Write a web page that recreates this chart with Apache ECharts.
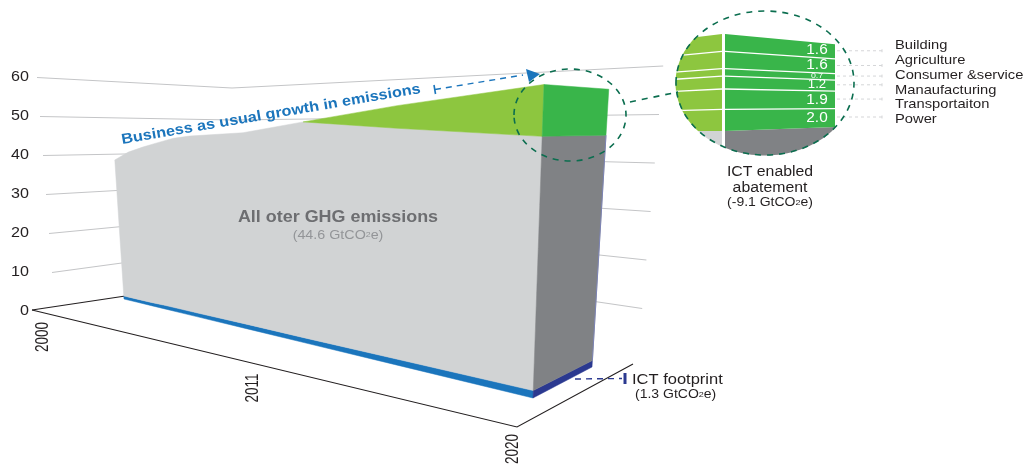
<!DOCTYPE html>
<html>
<head>
<meta charset="utf-8">
<style>html,body{margin:0;padding:0;background:#fff}#chart{width:1026px;height:464px}</style>
<script src="https://cdn.jsdelivr.net/npm/echarts@6/dist/echarts.min.js"></script>
</head>
<body>
<div id="chart"></div>
<script>
// GHG emissions by year, GtCO2e
const years    = [2000, 2001, 2002, 2003, 2004, 2005, 2008, 2011, 2015, 2020];
const ictFoot  = [0.9, 0.9, 0.9, 1.0, 1.0, 1.0, 1.1, 1.1, 1.2, 1.3];
const otherGhg = [40.0, 42.3, 43.7, 44.8, 45.9, 46.4, 46.8, 48.9, 46.8, 44.6];
const abated   = [0, 0, 0, 0, 0, 0, 0, 0, 4.6, 9.1];

// Abatement by sector, listed from the bottom of the stack upward
const sectors      = ['Power', 'Transportaiton', 'Manaufacturing', 'Consumer &service', 'Agriculture', 'Building'];
const sectorValues = [2.0, 1.9, 1.2, 0.7, 1.6, 1.6];

const valueTicks = [0, 10, 20, 30, 40, 50, 60];
const yearTicks  = [2000, 2011, 2020];

const FONT = '"Liberation Sans", Arial, sans-serif';
const COLOR = {
  grey: '#D1D3D4', greyDark: '#808285', lime: '#8DC63F', green: '#39B54A',
  blue: '#1B75BC', navy: '#2B3990', ring: '#0B6E4F', wall: '#C4C5C7',
  ink: '#231F20', muted: '#6D6E71', soft: '#939598'
};

const lerp = (a, b, t) => a + (b - a) * t;

// Oblique projection of the box: perspective along the time axis, then a
// per-column vertical scale and lean.
const FORESHORTEN = 1.54;
const timeFrac = y => { const u = (y - 2000) / 20; return u / (u + FORESHORTEN * (1 - u)); };
const FRONT_L = { x: 124, y: 299, s: 3.4, lean: -0.225 };
const FRONT_R = { x: 533, y: 398, s: 5.7, lean: 0.2 };
const BACK_R  = { x: 592, y: 367, s: 5.05, lean: 0.305 };

function slabPoint(year, depth, v) {
  const t = timeFrac(year);
  const mix = k => lerp(lerp(FRONT_L[k], FRONT_R[k], t), BACK_R[k], depth);
  return [mix('x') + mix('lean') * v, mix('y') - mix('s') * v];
}

// Walls and floor of the box
const floorLeft  = [32, 310];
const floorFront = [517, 427];
const floorRight = [633, 364];
const wallLeft   = v => [55 - 0.3 * v, 311.5 - 3.9 * v];
const wallCorner = v => [232, 280 - 3.2 * v];
const wallRight  = v => [638 + 0.42 * v, 357 - 4.85 * v];

// Zoomed ring: stack height at a horizontal position
const RING = { cx: 765, cy: 83, rx: 89, ry: 72 };
const RING_SMALL = { cx: 570, cy: 115, rx: 56, ry: 46 };
const insetY = (x, c) => {
  const f = (x - 725) / 110;
  return lerp(131, 127, f) - lerp(10.77, 9.2, f) * c;
};
const insetYLeft = (x, c) => 131 - (10.77 - (722 - x) * 0.0133) * c;

const cumulative = [];
sectorValues.reduce((sum, v, i) => (cumulative[i] = sum + v), 0);
const below = i => (i ? cumulative[i - 1] : 0);
const stackTop = cumulative[cumulative.length - 1];

// Element helpers
const polygon = (points, fill, extra) => ({ type: 'polygon', shape: { points }, style: Object.assign({ fill }, extra) });
const line = (points, stroke, width, dash) => ({
  type: 'polyline', shape: { points },
  style: { fill: null, stroke, lineWidth: width, lineDash: dash || null }
});
const text = (str, p, o) => ({
  type: 'text', x: p[0], y: p[1],
  rotation: o.rot || 0, scaleX: o.sx || 1.1, scaleY: o.sy || 1,
  style: {
    text: str, fontFamily: FONT, fontSize: o.size || 14, fontWeight: o.weight || 'normal',
    fill: o.color || COLOR.ink, align: o.align || 'left', verticalAlign: 'middle',
    rich: { sub: { fontSize: Math.round((o.size || 14) * 0.62), fontFamily: FONT, fill: o.color || COLOR.ink } }
  }
});
const ring = (pt, r) => {
  const c = pt([r.cx, r.cy]);
  return { type: 'ellipse', shape: { cx: c[0], cy: c[1], rx: r.rx, ry: r.ry },
    style: { fill: null, stroke: COLOR.ring, lineWidth: 1.6, lineDash: [6, 6] } };
};

const layer = (name, z, build, groupExtra) => ({
  type: 'custom', name, coordinateSystem: 'cartesian2d', z, silent: true, clip: false,
  data: [[0, 0]],
  renderItem: (params, api) => Object.assign(
    { type: 'group', children: build(p => api.coord(p)) },
    groupExtra ? groupExtra() : null)
});

// One face of the slab between two stacked boundaries, walking the year list
function band(pt, from, lower, upper, fill) {
  const idx = years.map((y, i) => i).filter(i => i >= from);
  const top = idx.map(i => pt(slabPoint(years[i], 0, upper(i))));
  const bot = idx.map(i => pt(slabPoint(years[i], 0, lower(i)))).reverse();
  return polygon(top.concat(bot), fill, { stroke: fill, lineWidth: 0.5 });
}
function side(pt, lo, hi, fill) {
  const y = years[years.length - 1];
  return polygon([
    pt(slabPoint(y, 0, lo)), pt(slabPoint(y, 0, hi)),
    pt(slabPoint(y, 1, hi)), pt(slabPoint(y, 1, lo))
  ], fill, { stroke: fill, lineWidth: 0.5 });
}

const last = years.length - 1;
const ghgBase = i => ictFoot[i];
const ghgTop  = i => ictFoot[i] + otherGhg[i];
const bauTop  = i => ghgTop(i) + abated[i];
const greenFrom = years.indexOf(2011);

const series = [
  layer('walls', 1, pt => {
    const out = [];
    valueTicks.forEach(v => {
      if (v === 0) return;
      out.push(line([wallLeft(v), wallCorner(v), wallRight(v)].map(pt), COLOR.wall, 1.2));
    });
    out.push(line([floorLeft, wallCorner(0)].map(pt), COLOR.ink, 1.1));
    out.push(line([floorLeft, floorFront, floorRight].map(pt), COLOR.ink, 1.1));
    return out;
  }),
  layer('slab', 2, pt => [
    band(pt, 0, () => 0, ghgBase, COLOR.blue),
    band(pt, 0, ghgBase, ghgTop, COLOR.grey),
    band(pt, greenFrom, ghgTop, bauTop, COLOR.lime),
    side(pt, 0, ghgBase(last), COLOR.navy),
    side(pt, ghgBase(last), ghgTop(last), COLOR.greyDark),
    side(pt, ghgTop(last), bauTop(last), COLOR.green),
    line([slabPoint(2020, 1, ghgBase(last)), slabPoint(2020, 1, ghgTop(last))].map(pt), '#7C83B5', 1)
  ]),
  layer('inset', 3, pt => {
    const out = [];
    const L0 = 660, L1 = 722, R0 = 725, R1 = 835;
    out.push(polygon([[L0, 131], [L1, 131], [L1, 165], [L0, 165]].map(pt), COLOR.grey));
    out.push(polygon([[R0, insetY(R0, 0)], [R1, insetY(R1, 0)], [R1, 165], [R0, 165]].map(pt), COLOR.greyDark));
    out.push(polygon([[L0, insetYLeft(L0, 0)], [L1, insetYLeft(L1, 0)], [L1, insetYLeft(L1, stackTop)], [L0, insetYLeft(L0, stackTop)]].map(pt), COLOR.lime));
    out.push(polygon([[R0, insetY(R0, 0)], [R1, insetY(R1, 0)], [R1, insetY(R1, stackTop)], [R0, insetY(R0, stackTop)]].map(pt), COLOR.green));
    cumulative.slice(0, -1).forEach(c => {
      out.push(line([[L0, insetYLeft(L0, c)], [L1, insetYLeft(L1, c)]].map(pt), '#fff', 1.3));
      out.push(line([[R0, insetY(R0, c)], [R1, insetY(R1, c)]].map(pt), '#fff', 1.3));
    });
    return out;
  }, () => ({ clipPath: { type: 'ellipse', shape: { cx: RING.cx, cy: RING.cy, rx: RING.rx + 0.5, ry: RING.ry + 0.5 } } })),
  layer('inset values', 4, pt => {
    const sizes = { 0.7: 8, 1.2: 12 };
    return sectorValues.map((v, i) => {
      const y = insetY(817, below(i) + v / 2);
      return text(v.toFixed(1), pt([817, y]), { align: 'center', color: '#fff', size: sizes[v] || 14, sx: 1.1 });
    });
  }),
  layer('leaders', 4, pt => {
    const out = [];
    sectorValues.forEach((v, i) => {
      const y = insetY(835, below(i) + v / 2) - 0.8;
      out.push(line([[837, y], [882, y]].map(pt), '#D5D6D8', 1, [3, 3]));
      out.push(line([[882, y - 1.5], [882, y + 1.5]].map(pt), '#D5D6D8', 1));
    });
    sectors.forEach((s, i) => {
      out.push(text(s, pt([895, 119.5 - 14.85 * i]), { size: 13.5, sx: 1.09 }));
    });
    return out;
  }),
  layer('rings', 5, pt => [
    ring(pt, RING_SMALL),
    ring(pt, RING),
    line([[630, 102], [678, 92]].map(pt), COLOR.ring, 1.6, [6, 6])
  ]),
  layer('callouts', 6, pt => [
    line([[435, 89.5], [523, 75]].map(pt), COLOR.blue, 1.4, [6, 5]),
    line([[434, 85], [435.5, 94]].map(pt), COLOR.blue, 1.6),
    polygon([[526, 69], [540, 74], [529, 82]].map(pt), COLOR.blue),
    line([[575, 379], [622, 378.5]].map(pt), COLOR.navy, 1.4, [6, 5]),
    line([[625, 373], [625, 384]].map(pt), COLOR.navy, 3)
  ]),
  layer('labels', 7, pt => {
    const out = [];
    valueTicks.forEach(v => {
      out.push(text(String(v), pt([29, 311.5 - 3.9 * v]), { align: 'right', size: 14, sx: 1.15 }));
    });
    const yearAt = { 2000: [43, 337], 2011: [253, 388], 2020: [513, 449] };
    yearTicks.forEach(y => {
      out.push(text(String(y), pt(yearAt[y]), { align: 'center', size: 13.5, sx: 1, sy: 1.3, rot: Math.PI / 2 }));
    });
    out.push(text('All oter GHG emissions', pt([338, 218]), { align: 'center', weight: 'bold', size: 16, color: COLOR.muted, sx: 1.12 }));
    out.push(text('(44.6 GtCO{sub|2}e)', pt([338, 235]), { align: 'center', size: 13, color: COLOR.soft, sx: 1.1 }));
    out.push(text('Business as usual growth in emissions', pt([271, 114.5]), { align: 'center', weight: 'bold', size: 14.5, color: COLOR.blue, sx: 1.12, rot: 9.7 * Math.PI / 180 }));
    out.push(text('ICT footprint', pt([632, 380]), { size: 15, sx: 1.1 }));
    out.push(text('(1.3 GtCO{sub|2}e)', pt([635, 395]), { size: 12.5, sx: 1.12 }));
    out.push(text('ICT enabled', pt([770, 172]), { align: 'center', size: 14, sx: 1.13 }));
    out.push(text('abatement', pt([770, 188]), { align: 'center', size: 14, sx: 1.13 }));
    out.push(text('(-9.1 GtCO{sub|2}e)', pt([770, 203]), { align: 'center', size: 12.5, sx: 1.12 }));
    return out;
  })
];

const chart = echarts.init(document.getElementById('chart'), null, { renderer: 'canvas' });
chart.setOption({
  animation: false,
  backgroundColor: '#ffffff',
  grid: { left: 0, right: 0, top: 0, bottom: 0 },
  xAxis: { type: 'value', min: 0, max: 1026, show: false },
  yAxis: { type: 'value', min: 0, max: 464, inverse: true, show: false },
  series
});
</script>
</body>
</html>
